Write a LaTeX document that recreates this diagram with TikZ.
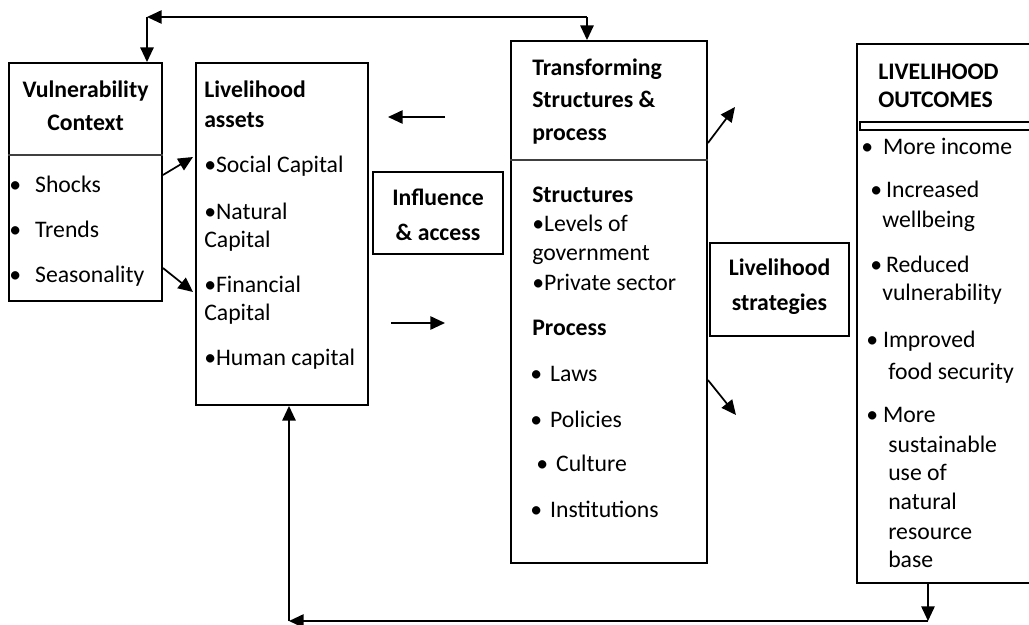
\documentclass[tikz,border=0pt]{standalone}
\usepackage{fontspec}
\setmainfont{Carlito}
\usetikzlibrary{arrows.meta,fit}
% bullet set in a box of given width, so the item text starts at a fixed offset
\newcommand{\bulw}[1]{\makebox[#1][l]{•}}
\begin{document}
\begin{tikzpicture}[x=0.75pt,y=-0.75pt,
  box/.style={draw, line width=1.4pt, inner sep=0pt},
  rule/.style={draw=black!75, line width=1pt},
  arr/.style={line width=1.3pt, -{Triangle[length=11pt,width=10pt]}},
  txt/.style={anchor=base west, inner sep=0pt, font=\fontsize{17.8}{21}\selectfont},
  hd/.style={txt, font=\fontsize{17.8}{21}\selectfont\bfseries},
  hdc/.style={hd, anchor=base}]
\useasboundingbox (0,0) rectangle (1029,625);

% ---- boxes ----
\node[box, fit={(9,63) (162,301)}] (vuln) {};
\node[box, fit={(196,63) (368,405)}] (assets) {};
\node[box, fit={(373,172) (503,254)}] (infl) {};
\node[box, fit={(511,41) (707,563)}] (trans) {};
\node[box, fit={(710,243) (849,336)}] (strat) {};
% outcomes box runs off the right edge
\coordinate (otl) at (857,44);
\coordinate (obl) at (857,583);
\draw[line width=1.4pt] (1032,44) -- (otl) -- (obl) -- (1032,583);
\draw[line width=1pt] (1032,122) -- (860,122) -- (860,130) -- (1032,130);

% ---- dividers ----
\draw[rule] (vuln.west |- 0,155) -- (163,155);
\draw[rule] (trans.west |- 0,160) -- (trans.east |- 0,160);

% ---- texts ----
\node[hdc] (v1) at (85.5,97) {Vulnerability};
\node[hdc] (v2) at (85.5,130) {Context};
\node[txt] (v3) at (9,192) {\bulw{19.4pt}Shocks};
\node[txt] (v4) at (9,237) {\bulw{19.4pt}Trends};
\node[txt] (v5) at (9,282) {\bulw{19.4pt}Seasonality};

\node[hd] (a1) at (204,97) {Livelihood};
\node[hd] (a2) at (204,127) {assets};
\node[txt] (a3) at (204,172) {•Social Capital};
\node[txt] (a4) at (204,219) {•Natural};
\node[txt] (a5) at (204,247) {Capital};
\node[txt] (a6) at (204,292) {•Financial};
\node[txt] (a7) at (204,320) {Capital};
\node[txt] (a8) at (204,365) {•Human capital};

\node[hdc] (i1) at (438,205) {Influence};
\node[hdc] (i2) at (438,240) {\& access};

\node[hd] (t1) at (532,75) {Transforming};
\node[hd] (t2) at (532,107) {Structures \&};
\node[hd] (t3) at (532,140) {process};
\node[hd] (t4) at (532,202) {Structures};
\node[txt] (t5) at (532,231) {•Levels of};
\node[txt] (t6) at (532,260) {government};
\node[txt] (t7) at (532,290) {•Private sector};
\node[hd] (t8) at (532,335) {Process};
\node[txt] (t9) at (530,381) {\bulw{14.9pt}Laws};
\node[txt] (t10) at (530,427) {\bulw{14.9pt}Policies};
\node[txt] (t11) at (536,471) {\bulw{14.9pt}Culture};
\node[txt] (t12) at (530,517) {\bulw{14.9pt}Institutions};

\node[hdc] (s1) at (779.5,275) {Livelihood};
\node[hdc] (s2) at (779.5,310) {strategies};

\node[hd] (o1) at (878,79) {LIVELIHOOD};
\node[hd] (o2) at (878,107) {OUTCOMES};
\node[txt] (o3) at (861,154) {\bulw{16.4pt}More income};
\node[txt] (o4) at (870,197) {\bulw{11.9pt}Increased};
\node[txt] (o5) at (882,227) {wellbeing};
\node[txt] (o6) at (870,272) {\bulw{11.9pt}Reduced};
\node[txt] (o7) at (882,300) {vulnerability};
\node[txt] (o8) at (866,347) {\bulw{12.6pt}Improved};
\node[txt] (o9) at (888,379) {food security};
\node[txt] (o10) at (866,422) {\bulw{12.6pt}More};
\node[txt] (o11) at (888,452) {sustainable};
\node[txt] (o12) at (888,480) {use of};
\node[txt] (o13) at (888,509) {natural};
\node[txt] (o14) at (888,539) {resource};
\node[txt] (o15) at (888,567) {base};

% ---- feedback loop along the top ----
\coordinate (topl) at (147,17);
\coordinate (topr) at (587,17);
\draw[arr] (topl) -- (topl |- vuln.north);
\draw[arr] (topr) -- (topl);
\draw[arr] (topr) -- (topr |- trans.north);

% ---- context to assets ----
\coordinate (va1) at (193,157);
\coordinate (va2) at (193,292);
\draw[arr] (vuln.east |- 0,175) -- (va1);
\draw[arr] (vuln.east |- 0,268) -- (va2);

% ---- between assets and structures ----
\coordinate (la) at (445,117);
\coordinate (lb) at (388,117);
\coordinate (ra) at (391,323);
\coordinate (rb) at (445,323);
\draw[arr] (la) -- (lb);
\draw[arr] (ra) -- (rb);

% ---- structures to strategies ----
\coordinate (ur) at (735,107);
\coordinate (dr) at (736,415);
\draw[arr] (trans.east |- 0,143) -- (ur);
\draw[arr] (trans.east |- 0,380) -- (dr);

% ---- feedback loop along the bottom ----
\coordinate (botr) at (928,621);
\coordinate (botl) at (289,621);
\draw[arr] (obl -| botr) -- (botr);
\draw[arr] (botr) -- (botl);
\draw[arr] (botl) -- (botl |- assets.south);
\end{tikzpicture}
\end{document}
